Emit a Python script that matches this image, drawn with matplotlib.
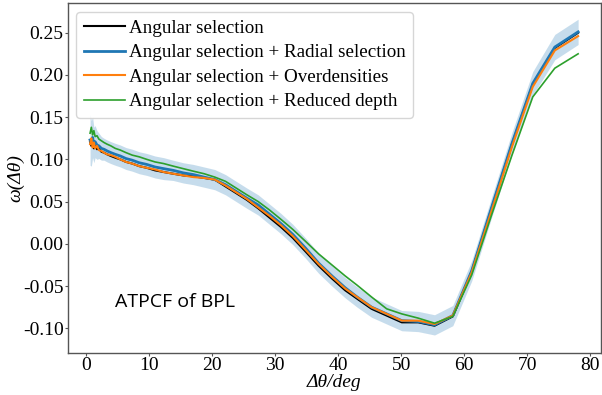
import numpy as np
import matplotlib
matplotlib.use('Agg')
import matplotlib.pyplot as plt

# angular separation bins (deg)
theta = [0.6, 0.8, 1.0, 1.2, 1.4, 1.7, 2.0, 2.4, 2.8, 3.3, 3.9, 4.6, 5.4, 6.3, 7.3, 8.4,
         9.6, 10.9, 12.3, 13.8, 15.4, 17.0, 18.7, 20.4, 22.1, 23.8, 25.5, 27.3, 29.1, 30.9,
         32.8, 34.8, 36.9, 39.0, 41.1, 43.0, 45.3, 47.7, 50.1, 52.7, 55.3, 58.2, 61.2, 64.4,
         67.6, 70.9, 74.4, 78.1]

w_ang = [0.121, 0.116, 0.124, 0.113, 0.118, 0.112, 0.113, 0.109, 0.108, 0.106, 0.104, 0.102,
         0.100, 0.097, 0.095, 0.092, 0.090, 0.087, 0.085, 0.083, 0.081, 0.080, 0.078, 0.076,
         0.068, 0.060, 0.052, 0.042, 0.031, 0.020, 0.007, -0.009, -0.026, -0.041, -0.055,
         -0.065, -0.077, -0.085, -0.093, -0.093, -0.097, -0.086, -0.033, 0.043, 0.118, 0.189,
         0.232, 0.250]

w_rad = [0.123, 0.119, 0.126, 0.117, 0.121, 0.117, 0.116, 0.113, 0.112, 0.110, 0.108, 0.106,
         0.104, 0.101, 0.099, 0.096, 0.094, 0.091, 0.089, 0.087, 0.084, 0.082, 0.079, 0.076,
         0.070, 0.062, 0.054, 0.046, 0.035, 0.024, 0.011, -0.005, -0.023, -0.038, -0.052,
         -0.063, -0.075, -0.083, -0.091, -0.092, -0.096, -0.085, -0.032, 0.044, 0.119, 0.190,
         0.233, 0.251]

w_rad_err = [0.030, 0.027, 0.024, 0.021, 0.019, 0.017, 0.015, 0.014, 0.013, 0.013, 0.013, 0.013,
             0.013, 0.013, 0.013, 0.013, 0.013, 0.013, 0.013, 0.012, 0.012, 0.012, 0.012, 0.012,
             0.012, 0.012, 0.012, 0.012, 0.012, 0.012, 0.012, 0.012, 0.012, 0.012, 0.012,
             0.012, 0.012, 0.012, 0.012, 0.012, 0.012, 0.012, 0.012, 0.012, 0.013, 0.014,
             0.015, 0.015]

w_over = [0.118, 0.125, 0.114, 0.120, 0.113, 0.116, 0.111, 0.110, 0.108, 0.106, 0.105, 0.103,
          0.100, 0.097, 0.095, 0.092, 0.090, 0.088, 0.085, 0.083, 0.081, 0.079, 0.078, 0.076,
          0.069, 0.061, 0.053, 0.043, 0.033, 0.022, 0.009, -0.007, -0.024, -0.039, -0.053,
          -0.063, -0.075, -0.083, -0.091, -0.091, -0.095, -0.085, -0.034, 0.040, 0.115, 0.186,
          0.229, 0.246]

w_depth = [0.131, 0.138, 0.129, 0.134, 0.127, 0.128, 0.124, 0.122, 0.120, 0.118, 0.116, 0.113,
           0.111, 0.108, 0.105, 0.103, 0.100, 0.097, 0.095, 0.092, 0.089, 0.086, 0.083, 0.079,
           0.074, 0.066, 0.058, 0.050, 0.040, 0.029, 0.017, 0.003, -0.012, -0.025, -0.038,
           -0.049, -0.063, -0.077, -0.083, -0.088, -0.094, -0.086, -0.037, 0.035, 0.105, 0.174,
           0.208, 0.225]

labels = ['Angular selection',
          'Angular selection + Radial selection',
          'Angular selection + Overdensities',
          'Angular selection + Reduced depth']

plt.rcParams['font.family'] = ['Liberation Serif', 'DejaVu Serif']
plt.rcParams['font.size'] = 14

fig = plt.figure(figsize=(6.02, 3.95), dpi=100)
ax = fig.add_axes([0.1125, 0.107, 0.8855, 0.885])

th = np.array(theta)
rad = np.array(w_rad)
err = np.array(w_rad_err)

ax.plot(th, w_ang, color='black', lw=1.5, label=labels[0])
ax.plot(th, rad, color='#1f77b4', lw=2.0, label=labels[1])
ax.fill_between(th, rad - err, rad + err, color='#1f77b4', alpha=0.25, lw=0)
ax.plot(th, w_over, color='#ff7f0e', lw=1.5, label=labels[2])
ax.plot(th, w_depth, color='#2ca02c', lw=1.2, label=labels[3])

ax.set_xlim(-2.95, 81.7)
ax.set_ylim(-0.129, 0.285)
ax.set_xticks(np.arange(0, 81, 10))
ax.set_yticks(np.arange(-0.10, 0.26, 0.05))
ax.yaxis.set_major_formatter(matplotlib.ticker.FormatStrFormatter('%.2f'))

for s in ax.spines.values():
    s.set_color('#555555')
    s.set_linewidth(1.0)
ax.tick_params(colors='#555555', labelcolor='black', length=2.5, width=0.8, labelsize=14, pad=0.5)

ax.set_xlabel('\u0394\u03b8/deg', style='italic', fontsize=14, labelpad=0)
ax.set_ylabel('\u03c9(\u0394\u03b8)', style='italic', fontsize=14, labelpad=-1)

ax.text(4.5, -0.069, 'ATPCF of BPL', family='Open Sans', fontsize=14, va='center', ha='left')

ax.legend(loc='upper left', fontsize=13.7, handlelength=2.15, handletextpad=0.2,
          labelspacing=0.38, borderpad=0.4, borderaxespad=0.45)

fig.savefig('out.png', dpi=100)
